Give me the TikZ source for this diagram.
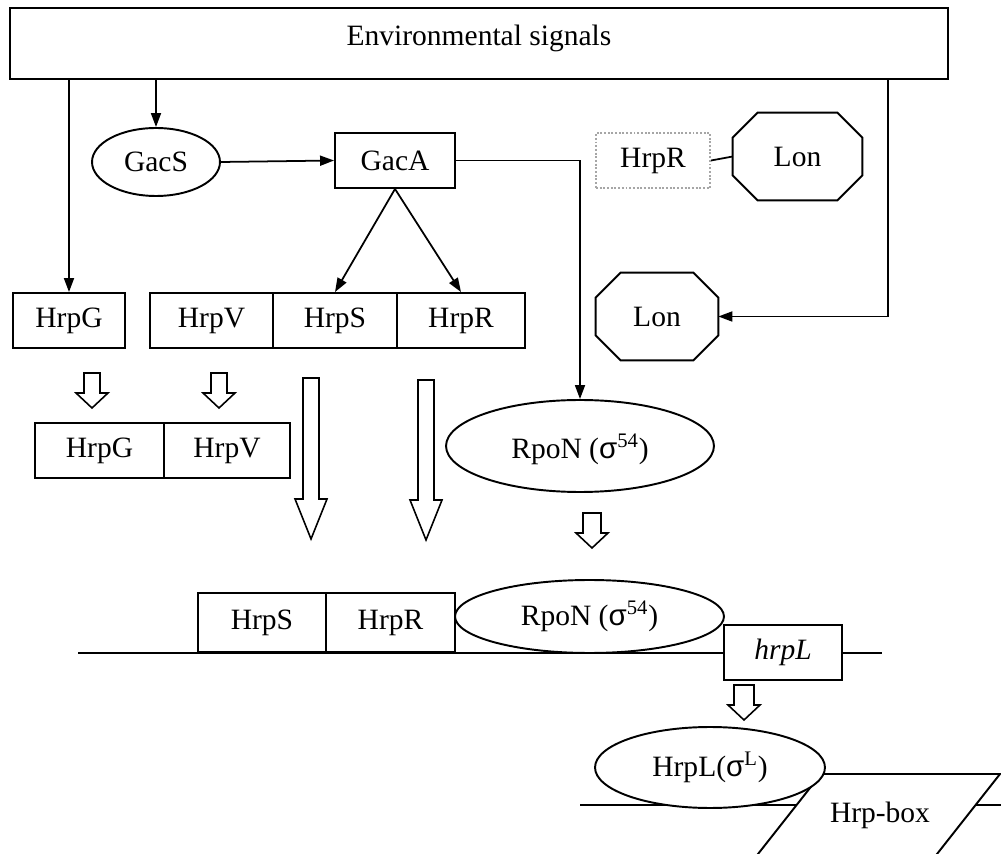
\documentclass[tikz,border=0pt]{standalone}
\usepackage{fontspec}
\setmainfont{Liberation Serif}
\newfontfamily\sigfont{Liberation Sans}
\usetikzlibrary{arrows.meta,shapes.geometric}
\newcommand{\sig}{{\sigfont σ}}
% x, ytop, ybot, shaft half width, head half width, head length
\newcommand{\hollowarrow}[6]{%
  \draw[hollow] (#1-#4,#2) -- (#1+#4,#2) -- (#1+#4,#3-#6) -- (#1+#5,#3-#6) -- (#1,#3)
    -- (#1-#5,#3-#6) -- (#1-#4,#3-#6) -- cycle;}
% octagon around a rectangular node: name, chamfer
\newcommand{\octagon}[2]{%
  \draw[octline] ([xshift=#2]#1.north west) -- ([xshift=-#2]#1.north east)
    -- ([yshift=-#2]#1.north east) -- ([yshift=#2]#1.south east)
    -- ([xshift=-#2]#1.south east) -- ([xshift=#2]#1.south west)
    -- ([yshift=#2]#1.south west) -- ([yshift=-#2]#1.north west) -- cycle;}
\tikzset{
  box/.style={draw, line width=1.1pt, fill=white, rectangle, minimum height=1.1cm, inner sep=0pt},
  oval/.style={draw, line width=1.1pt, fill=white, ellipse, inner sep=0pt},
  octnode/.style={rectangle, inner sep=0pt, minimum height=1.74cm},
  octline/.style={line width=1.1pt, fill=white, line join=miter},
  arr/.style={line width=1pt, -{Triangle[length=0.28cm,width=0.2cm]}},
  link/.style={line width=1pt},
  hollow/.style={draw, line width=0.9pt, fill=white, line join=miter},
  dna/.style={line width=1pt}
}
\begin{document}
\begin{tikzpicture}[x=0.02cm,y=-0.02cm,font=\fontsize{16.8}{20}\selectfont]
\useasboundingbox (0,0) rectangle (1001,854);

% DNA lines
\draw[dna] (78,653) -- (882,653);
\draw[dna] (580,805) -- (1001,805);

% top signal box
\node[box, minimum width=18.76cm, minimum height=1.42cm,
      label={[yshift=0.1cm]center:Environmental signals}] (env) at (479,43.5) {};

% first row
\node[oval, minimum width=2.56cm, minimum height=1.36cm] (gacs) at (156,162) {GacS};
\node[box, minimum width=2.4cm] (gaca) at (395,160.5) {GacA};
\node[box, draw=gray!70, densely dotted, line width=1.2pt, minimum width=2.28cm] (hrprd) at (653,160.5) {HrpR};
\node[octnode, minimum width=2.58cm] (lon1) at (797.5,156.5) {};
\octagon{lon1}{0.5cm}
\node at (lon1) {Lon};

% second row
\node[box, minimum width=2.24cm] (hrpg1) at (69,320.5) {HrpG};
\node[box, minimum width=2.46cm] (hrpv1) at (211.5,320.5) {HrpV};
\node[box, minimum width=2.48cm] (hrps1) at (335,320.5) {HrpS};
\node[box, minimum width=2.56cm] (hrpr1) at (461,320.5) {HrpR};
\node[octnode, minimum width=2.44cm] (lon2) at (657,316.5) {};
\octagon{lon2}{0.5cm}
\node at (lon2) {Lon};

% third row
\node[box, minimum width=2.58cm] (hrpg2) at (99.5,450.5) {HrpG};
\node[box, minimum width=2.52cm] (hrpv2) at (227,450.5) {HrpV};
\node[oval, minimum width=5.36cm, minimum height=1.84cm, text depth=-0.1cm] (rpon1) at (580,446) {RpoN (\sig\textsuperscript{54})};

% promoter complex
\node[box, minimum width=2.56cm, minimum height=1.18cm] (hrps2) at (262,622.5) {HrpS};
\node[box, minimum width=2.58cm, minimum height=1.18cm] (hrpr2) at (390.5,622.5) {HrpR};
\node[oval, minimum width=5.38cm, minimum height=1.46cm] (rpon2) at (589.5,616.5) {RpoN (\sig\textsuperscript{54})};
\node[box, minimum width=2.36cm] (hrpl) at (783,652.5) {\textit{hrpL}};

% Hrp-box and HrpL
\draw[line width=1.1pt, fill=white, line join=miter] (821,774) -- (1000,774) -- (924.4,870) -- (745.4,870) -- cycle;
\node (hrpbox) at (880,815) {Hrp-box};
\node[oval, minimum width=4.6cm, minimum height=1.62cm] (hrplp) at (710,767.5) {HrpL(\sig\textsuperscript{L})};

% connectors
\coordinate (envR) at (888,79);
\draw[arr] (env.south -| hrpg1) -- (hrpg1.north);
\draw[arr] (env.south -| gacs) -- (gacs.north);
\draw[arr] (envR) |- (lon2.east);
\draw[arr] (gacs.east) -- (gaca.west);
\draw[arr] (gaca.south) -- (hrps1.north);
\draw[arr] (gaca.south) -- (hrpr1.north);
\draw[arr] (gaca.east) -| (rpon1.north);
\draw[link] (hrprd.east) -- (lon1.west);

% hollow arrows
\hollowarrow{92}{373}{408}{8}{16}{15}
\hollowarrow{219}{373}{408}{8}{16}{15}
\hollowarrow{311}{378}{539}{8}{16}{40}
\hollowarrow{426}{380}{540}{8}{16}{40}
\hollowarrow{592}{513}{548}{9}{16}{15}
\hollowarrow{744}{685}{720}{10}{16}{15}
\end{tikzpicture}
\end{document}
